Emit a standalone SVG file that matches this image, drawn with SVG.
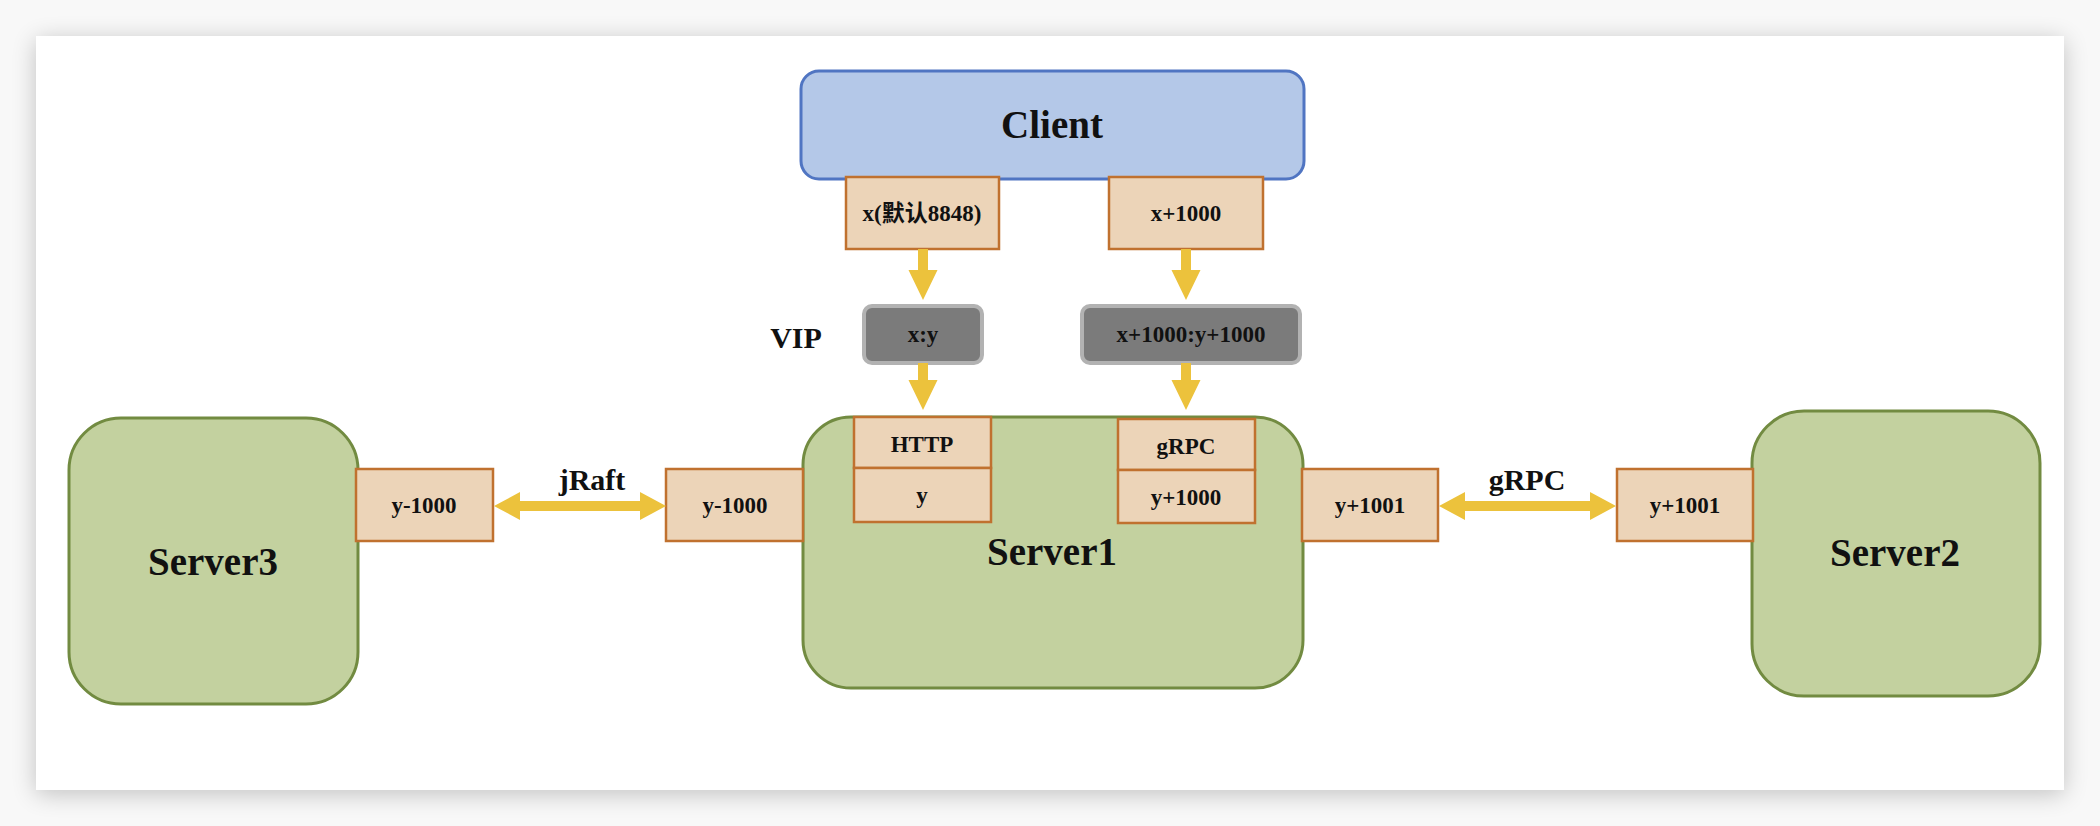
<svg xmlns="http://www.w3.org/2000/svg" width="2100" height="826" viewBox="0 0 2100 826">
  <defs>
    <filter id="shadow" x="-5%" y="-10%" width="110%" height="120%">
      <feGaussianBlur stdDeviation="12"/>
    </filter>
  </defs>
  <style>
    text { font-family: "Liberation Serif", "Noto Sans CJK SC", serif; font-weight: bold; fill: #111; text-anchor: middle; }
    .big { font-size: 39px; }
    .lbl { font-size: 30px; }
    .pt { font-size: 23px; }
    .client { fill: #b4c8e8; stroke: #5075c2; stroke-width: 3; }
    .server { fill: #c3d19f; stroke: #728b41; stroke-width: 3; }
    .port { fill: #ecd4b8; stroke: #c0712f; stroke-width: 2.5; }
    .vip { fill: #7b7b7b; stroke: #b2b2b2; stroke-width: 4; }
    .arrow { fill: #ecc23c; stroke: none; }
  </style>

  <rect x="0" y="0" width="2100" height="826" fill="#f8f8f8"/>
  <rect x="36" y="40" width="2028" height="754" fill="#000" opacity="0.22" filter="url(#shadow)"/>
  <rect x="36" y="36" width="2028" height="754" fill="#ffffff"/>

  <g id="client">
    <rect class="client" x="801" y="71" width="503" height="108" rx="18" ry="18"/>
    <text class="big" x="1052" y="138">Client</text>
  </g>
  <g id="client-port-x">
    <rect class="port" x="846" y="177" width="153" height="72"/>
    <text class="pt" x="922" y="221">x(默认8848)</text>
  </g>
  <g id="client-port-x1000">
    <rect class="port" x="1109" y="177" width="154" height="72"/>
    <text class="pt" x="1186" y="221">x+1000</text>
  </g>

  <g id="vip-label">
    <text class="lbl" x="796" y="348">VIP</text>
  </g>
  <g id="vip-xy">
    <rect class="vip" x="864" y="306" width="118" height="57" rx="8" ry="8"/>
    <text class="pt" x="923" y="342">x:y</text>
  </g>
  <g id="vip-x1000">
    <rect class="vip" x="1082" y="306" width="218" height="57" rx="8" ry="8"/>
    <text class="pt" x="1191" y="342">x+1000:y+1000</text>
  </g>

  <g id="server3">
    <rect class="server" x="69" y="418" width="289" height="286" rx="52" ry="52"/>
    <text class="big" x="213" y="575">Server3</text>
  </g>
  <g id="server3-port">
    <rect class="port" x="356" y="469" width="137" height="72"/>
    <text class="pt" x="424" y="513">y-1000</text>
  </g>

  <g id="server1">
    <rect class="server" x="803" y="417" width="500" height="271" rx="48" ry="48"/>
    <text class="big" x="1052" y="565">Server1</text>
  </g>
  <g id="server1-http">
    <rect class="port" x="854" y="417" width="137" height="51"/>
    <text class="pt" x="922" y="452">HTTP</text>
  </g>
  <g id="server1-y">
    <rect class="port" x="854" y="468" width="137" height="54"/>
    <text class="pt" x="922" y="503">y</text>
  </g>
  <g id="server1-grpc">
    <rect class="port" x="1118" y="419" width="137" height="51"/>
    <text class="pt" x="1186" y="454">gRPC</text>
  </g>
  <g id="server1-y1000">
    <rect class="port" x="1118" y="470" width="137" height="53"/>
    <text class="pt" x="1186" y="505">y+1000</text>
  </g>
  <g id="server1-port-left">
    <rect class="port" x="666" y="469" width="137" height="72"/>
    <text class="pt" x="735" y="513">y-1000</text>
  </g>
  <g id="server1-port-right">
    <rect class="port" x="1302" y="469" width="136" height="72"/>
    <text class="pt" x="1370" y="513">y+1001</text>
  </g>

  <g id="server2">
    <rect class="server" x="1752" y="411" width="288" height="285" rx="52" ry="52"/>
    <text class="big" x="1895" y="566">Server2</text>
  </g>
  <g id="server2-port">
    <rect class="port" x="1617" y="469" width="136" height="72"/>
    <text class="pt" x="1685" y="513">y+1001</text>
  </g>

  <g id="connectors">
    <polygon class="arrow" points="918,249 928,249 928,270 937.5,270 923,300 908.5,270 918,270"/>
    <polygon class="arrow" points="1181,249 1191,249 1191,270 1200.5,270 1186,300 1171.5,270 1181,270"/>
    <polygon class="arrow" points="918,363 928,363 928,380 937.5,380 923,410 908.5,380 918,380"/>
    <polygon class="arrow" points="1181,363 1191,363 1191,380 1200.5,380 1186,410 1171.5,380 1181,380"/>
    <polygon class="arrow" points="494,506 520,492 520,501 640,501 640,492 666,506 640,520 640,511 520,511 520,520"/>
    <polygon class="arrow" points="1439,506 1465,492 1465,501 1590,501 1590,492 1616,506 1590,520 1590,511 1465,511 1465,520"/>
    <text class="lbl" x="592" y="490">jRaft</text>
    <text class="lbl" x="1527" y="490">gRPC</text>
  </g>
</svg>
